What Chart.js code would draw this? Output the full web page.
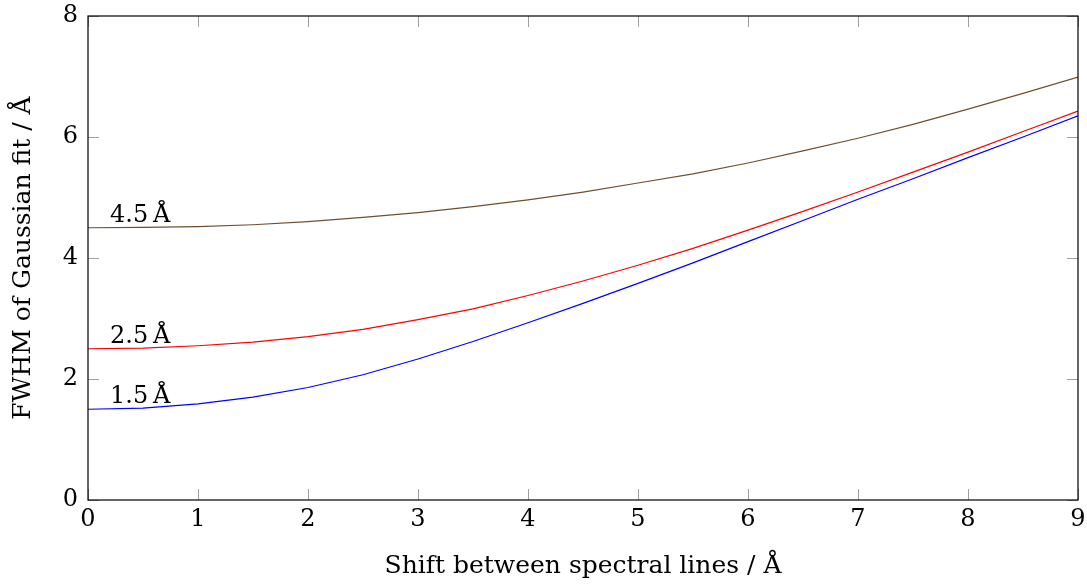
<!DOCTYPE html>
<html>
<head>
<meta charset="utf-8">
<script src="https://cdn.jsdelivr.net/npm/chart.js@4"></script>
<style>
  html, body { margin: 0; padding: 0; background: #fff; }
  #wrap { width: 1087px; height: 585px; position: relative; }
</style>
</head>
<body>
<div id="wrap"><canvas id="chartCanvas"></canvas></div>
<script>
const shifts = [0, 0.5, 1, 1.5, 2, 2.5, 3, 3.5, 4, 4.5, 5, 5.5, 6, 6.5, 7, 7.5, 8, 8.5, 9];
const fwhm15 = [1.5, 1.52, 1.59, 1.70, 1.86, 2.07, 2.33, 2.62, 2.93, 3.25, 3.58, 3.92, 4.27, 4.62, 4.97, 5.31, 5.66, 6.00, 6.35];
const fwhm25 = [2.5, 2.51, 2.55, 2.61, 2.70, 2.82, 2.98, 3.16, 3.38, 3.62, 3.88, 4.16, 4.46, 4.77, 5.09, 5.42, 5.75, 6.09, 6.43];
const fwhm45 = [4.5, 4.505, 4.52, 4.55, 4.60, 4.67, 4.75, 4.85, 4.96, 5.09, 5.24, 5.39, 5.57, 5.77, 5.98, 6.21, 6.46, 6.72, 6.99];
const seriesNames = ["1.5\u2009Å", "2.5\u2009Å", "4.5\u2009Å"];
const xTicks = [0, 1, 2, 3, 4, 5, 6, 7, 8, 9];
const yTicks = [0, 2, 4, 6, 8];

const serif = "'DejaVu Serif', 'Liberation Serif', serif";

function toPoints(ys) {
  return shifts.map((x, i) => ({ x, y: ys[i] }));
}

// in-axis grey ticks on all four sides plus black frame, pgfplots style
const frameTicks = {
  id: "frameTicks",
  afterDatasetsDraw(chart) {
    const { ctx, chartArea: a, scales } = chart;
    const len = 11;
    ctx.save();
    ctx.strokeStyle = "#a0a0a0";
    ctx.lineWidth = 1;
    ctx.beginPath();
    xTicks.forEach(v => {
      const px = Math.round(scales.x.getPixelForValue(v)) + 0.5;
      ctx.moveTo(px, a.bottom); ctx.lineTo(px, a.bottom - len);
      ctx.moveTo(px, a.top); ctx.lineTo(px, a.top + len);
    });
    yTicks.forEach(v => {
      const py = Math.round(scales.y.getPixelForValue(v)) + 0.5;
      ctx.moveTo(a.left, py); ctx.lineTo(a.left + len, py);
      ctx.moveTo(a.right, py); ctx.lineTo(a.right - len, py);
    });
    ctx.stroke();
    ctx.strokeStyle = "#000";
    ctx.lineWidth = 1.2;
    ctx.strokeRect(a.left, a.top, a.right - a.left, a.bottom - a.top);
    ctx.restore();
  }
};

// curve labels just above each line near x = 0.2
const curveLabels = {
  id: "curveLabels",
  afterDatasetsDraw(chart) {
    const { ctx, scales } = chart;
    ctx.save();
    ctx.fillStyle = "#000";
    ctx.font = "24px " + serif;
    ctx.textAlign = "left";
    ctx.textBaseline = "alphabetic";
    chart.data.datasets.forEach(ds => {
      const px = scales.x.getPixelForValue(0.2);
      const py = scales.y.getPixelForValue(ds.data[0].y) - 6;
      ctx.fillText(ds.label, px, py);
    });
    ctx.restore();
  }
};

new Chart(chartCanvas, {
  type: "line",
  data: {
    datasets: [
      { label: seriesNames[0], data: toPoints(fwhm15), borderColor: "#0000ff" },
      { label: seriesNames[1], data: toPoints(fwhm25), borderColor: "#ff0000" },
      { label: seriesNames[2], data: toPoints(fwhm45), borderColor: "#6e5030" }
    ]
  },
  options: {
    responsive: true,
    maintainAspectRatio: false,
    animation: false,
    layout: { padding: { top: 16, right: 9, left: 0, bottom: 0 } },
    elements: {
      point: { radius: 0 },
      line: { borderWidth: 1.2, tension: 0 }
    },
    plugins: {
      legend: { display: false },
      tooltip: { enabled: false }
    },
    scales: {
      x: {
        type: "linear",
        min: 0,
        max: 9,
        afterBuildTicks: s => { s.ticks = xTicks.map(value => ({ value })); },
        afterFit: s => { s.height = 85; s.paddingLeft = 0; s.paddingRight = 0; },
        grid: { display: false, drawTicks: false },
        border: { display: false },
        ticks: { color: "#000", font: { family: serif, size: 24 }, padding: 5, maxRotation: 0 },
        title: { display: true, text: "Shift between spectral lines / Å", color: "#000", font: { family: serif, size: 25 }, padding: { top: 4 } }
      },
      y: {
        min: 0,
        max: 8,
        afterBuildTicks: s => { s.ticks = yTicks.map(value => ({ value })); },
        afterFit: s => { s.width = 88; s.paddingTop = 0; s.paddingBottom = 0; },
        grid: { display: false, drawTicks: false },
        border: { display: false },
        ticks: { color: "#000", font: { family: serif, size: 24 }, padding: 10 },
        title: { display: true, text: "FWHM of Gaussian fit / Å", color: "#000", font: { family: serif, size: 25 }, padding: { top: 8, bottom: 4 } }
      }
    }
  },
  plugins: [frameTicks, curveLabels]
});
</script>
</body>
</html>
